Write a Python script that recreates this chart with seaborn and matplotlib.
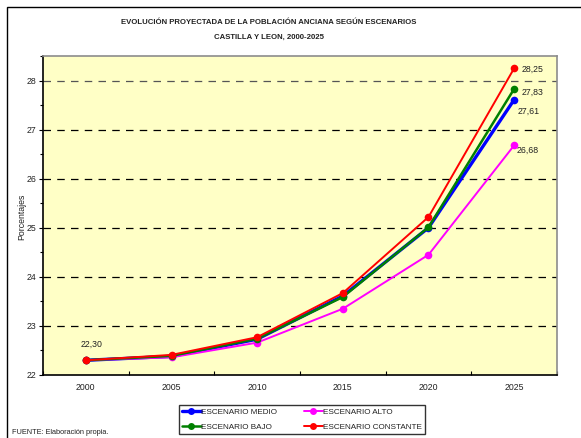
import matplotlib
matplotlib.use("Agg")
import matplotlib.pyplot as plt
from matplotlib.patches import Rectangle
from matplotlib.lines import Line2D
from matplotlib.ticker import FixedLocator, MultipleLocator
import seaborn as sns
import pandas as pd

years = ["2000", "2005", "2010", "2015", "2020", "2025"]
medio = [22.30, 22.38, 22.73, 23.61, 25.00, 27.61]
bajo = [22.30, 22.39, 22.74, 23.59, 25.01, 27.83]
alto = [22.30, 22.36, 22.66, 23.35, 24.45, 26.68]
constante = [22.30, 22.41, 22.77, 23.67, 25.22, 28.25]

names = ["ESCENARIO MEDIO", "ESCENARIO BAJO", "ESCENARIO ALTO", "ESCENARIO CONSTANTE"]
colors = ["#0000FF", "#008000", "#FF00FF", "#FF0000"]
widths = [2.4, 1.8, 1.4, 1.4]

FS = 6.3
TXT = "#222222"

sns.set_theme(style="white")
plt.rcParams["font.family"] = ["Liberation Sans", "DejaVu Sans"]

fig = plt.figure(figsize=(5.81, 4.38), dpi=100)
# outer chart frame
fig.patches.append(Rectangle((7 / 581, -0.1), 1.2, 1 - 7 / 438 + 0.1,
                             transform=fig.transFigure, fill=False,
                             edgecolor="black", linewidth=1.0))

ax = fig.add_axes([43 / 581, 1 - 375 / 438, (557 - 43) / 581, (375 - 56) / 438])
ax.set_facecolor("#FFFFC6")

series = [medio, bajo, alto, constante]
order = [0, 2, 1, 3]
for i in order:
    df = pd.DataFrame({"x": list(range(len(years))), "y": series[i]})
    sns.lineplot(data=df, x="x", y="y", ax=ax, color=colors[i],
                 linewidth=widths[i], marker="o", markersize=5.5,
                 markeredgewidth=0, label=None, legend=False)

ax.set_xlim(-0.5, len(years) - 0.5)
ax.set_ylim(22, 28.5)

# category ticks between labels
ax.xaxis.set_major_locator(FixedLocator([i + 0.5 for i in range(-1, len(years))]))
ax.set_xticklabels([])
ax.xaxis.set_minor_locator(FixedLocator(list(range(len(years)))))
ax.set_xticklabels(years, minor=True)
ax.tick_params(axis="x", which="major", direction="in", length=3, width=0.8,
               color="black", bottom=True)
ax.tick_params(axis="x", which="minor", length=0, pad=6, labelsize=FS,
               labelcolor=TXT)

ax.yaxis.set_major_locator(MultipleLocator(1))
ax.yaxis.set_minor_locator(MultipleLocator(0.5))
ax.tick_params(axis="y", which="major", direction="out", length=3, width=0.8,
               color="black", left=True, labelsize=FS, pad=2, labelcolor=TXT)
ax.tick_params(axis="y", which="minor", direction="out", length=2, width=0.8,
               color="black", left=True)

for v in range(23, 29):
    ax.axhline(v, color="#555555" if v == 28 else "black", linewidth=0.9,
               linestyle=(0, (6, 5)), zorder=1)

for side in ["top", "right"]:
    ax.spines[side].set_color("#8C8C8C")
    ax.spines[side].set_linewidth(1.2)
for side in ["left", "bottom"]:
    ax.spines[side].set_color("black")
    ax.spines[side].set_linewidth(1.2)

ax.set_xlabel("")
ax.set_ylabel("Porcentajes", fontsize=FS, color=TXT, va="center")
ax.yaxis.set_label_coords(-0.041, 0.495)

def fmt(v):
    return f"{v:.2f}".replace(".", ",")

last = len(years) - 1
lab = dict(textcoords="offset pixels", va="center", fontsize=FS, color=TXT)
ax.annotate(fmt(medio[0]), (0, medio[0]), xytext=(6, 16), ha="center", **lab)
ax.annotate(fmt(constante[last]), (last, constante[last]), xytext=(7, -1), ha="left", **lab)
ax.annotate(fmt(bajo[last]), (last, bajo[last]), xytext=(7, -3), ha="left", **lab)
ax.annotate(fmt(medio[last]), (last, medio[last]), xytext=(3, -12), ha="left", **lab)
ax.annotate(fmt(alto[last]), (last, alto[last]), xytext=(2, -5), ha="left", **lab)

fig.text(269 / 581, 1 - 22 / 438, "EVOLUCIÓN PROYECTADA DE LA POBLACIÓN ANCIANA SEGÚN ESCENARIOS",
         ha="center", va="center", fontsize=5.6, fontweight="bold", color=TXT)
fig.text(269 / 581, 1 - 37 / 438, "CASTILLA Y LEON, 2000-2025",
         ha="center", va="center", fontsize=5.6, fontweight="bold", color=TXT)
fig.text(12 / 581, 1 - 432 / 438, "FUENTE: Elaboración propia.", ha="left",
         va="center", fontsize=5.3, color=TXT)

handles = [Line2D([], [], color=colors[i], linewidth=widths[i], marker="o",
                  markersize=5, markeredgewidth=0) for i in range(4)]
leg = fig.legend(handles, names, ncol=2, loc="center",
                 bbox_to_anchor=(302 / 581, 1 - 419.5 / 438), fontsize=5.9,
                 frameon=True, fancybox=False, handlelength=2.3,
                 handletextpad=0.1, columnspacing=3.2, borderpad=0.4,
                 labelspacing=0.85)
for t in leg.get_texts():
    t.set_color(TXT)
leg.get_frame().set_edgecolor("black")
leg.get_frame().set_linewidth(1.0)

fig.savefig("out.png", dpi=100)
